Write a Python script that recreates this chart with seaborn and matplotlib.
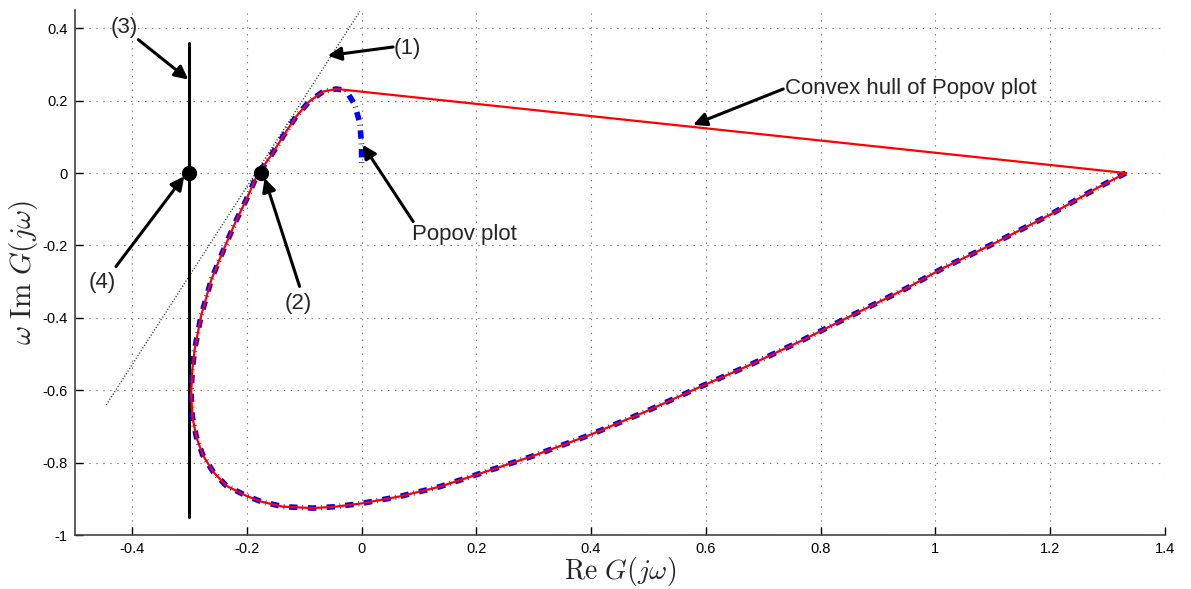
import numpy as np
import pandas as pd
import matplotlib
matplotlib.use('Agg')
import matplotlib.pyplot as plt
import seaborn as sns

# Popov plot points (Re G, w Im G), starting at w=0
curve_re = [1.332, 1.287, 1.200, 1.104, 1.014, 0.950, 0.857, 0.764, 0.671, 0.589,
            0.496, 0.398, 0.299, 0.200, 0.136, 0.066, 0.000, -0.045, -0.085, -0.137,
            -0.175, -0.201, -0.236, -0.259, -0.277, -0.288, -0.295, -0.297, -0.295, -0.291,
            -0.280, -0.262, -0.248, -0.233, -0.218, -0.201, -0.183, -0.163, -0.155, -0.137,
            -0.114, -0.091, -0.067, -0.044]
curve_im = [0.000, -0.037, -0.115, -0.193, -0.262, -0.318, -0.391, -0.465, -0.534, -0.591,
            -0.658, -0.723, -0.781, -0.833, -0.866, -0.893, -0.912, -0.921, -0.925, -0.921,
            -0.907, -0.891, -0.863, -0.824, -0.778, -0.728, -0.672, -0.608, -0.543, -0.488,
            -0.396, -0.295, -0.240, -0.184, -0.129, -0.074, -0.009, 0.037, 0.055, 0.101,
            0.156, 0.198, 0.225, 0.232]
# high-frequency tail of the Popov plot (not part of the hull)
tail_re = [-0.027, -0.012, -0.003, 0.000, 0.000]
tail_im = [0.228, 0.189, 0.138, 0.078, 0.015]

# Popov line (1) and vertical line (3)
popov_line_re = [-0.445, -0.003]
popov_line_im = [-0.640, 0.446]
vert_re = [-0.30, -0.30]
vert_im = [-0.95, 0.36]
# points (4) and (2)
pts_re = [-0.30, -0.175]
pts_im = [0.0, 0.0]

popov = pd.DataFrame({'re': curve_re + tail_re, 'im': curve_im + tail_im})
hull = pd.DataFrame({'re': curve_re + [curve_re[0]], 'im': curve_im + [curve_im[0]]})

sns.set_style('white')
plt.rcParams['font.family'] = ['Liberation Sans', 'DejaVu Sans']
plt.rcParams['mathtext.fontset'] = 'cm'
plt.rcParams['lines.scale_dashes'] = False

fig = plt.figure(figsize=(11.91, 5.89), dpi=100)
ax = fig.add_axes([0.0627, 0.0912, 0.9153, 0.8918])

ax.plot(popov_line_re, popov_line_im, color='#333333', lw=1.0, ls=(0, (0.8, 1.4)))
ax.plot(vert_re, vert_im, color='k', lw=2.2)
sns.lineplot(data=popov, x='re', y='im', sort=False, estimator=None, ax=ax,
             color='#0000ff', lw=4.0, ls=(0, (6, 3.5, 0.5, 3.5)))
sns.lineplot(data=hull, x='re', y='im', sort=False, estimator=None, ax=ax,
             color='#ff0000', lw=1.6)
ax.plot(pts_re, pts_im, 'o', color='k', ms=10, ls='none')

arrow = dict(arrowstyle='-|>', lw=2.2, color='k', mutation_scale=20,
             shrinkA=0, shrinkB=0)
fs = 16
ax.annotate('(3)', xy=(-0.413, 0.401), fontsize=fs, ha='center', va='center')
ax.annotate('', xy=(-0.302, 0.258), xytext=(-0.389, 0.368), arrowprops=arrow)
ax.annotate('(1)', xy=(0.080, 0.343), fontsize=fs, ha='center', va='center')
ax.annotate('', xy=(-0.059, 0.324), xytext=(0.055, 0.348), arrowprops=arrow)
ax.annotate('Convex hull of Popov plot', xy=(0.738, 0.232), fontsize=fs,
            ha='left', va='center')
ax.annotate('', xy=(0.578, 0.133), xytext=(0.735, 0.232), arrowprops=arrow)
ax.annotate('Popov plot', xy=(0.180, -0.170), fontsize=fs, ha='center', va='center')
ax.annotate('', xy=(0.002, 0.078), xytext=(0.090, -0.134), arrowprops=arrow)
ax.annotate('(2)', xy=(-0.111, -0.359), fontsize=fs, ha='center', va='center')
ax.annotate('', xy=(-0.169, -0.014), xytext=(-0.108, -0.313), arrowprops=arrow)
ax.annotate('(4)', xy=(-0.452, -0.302), fontsize=fs, ha='center', va='center')
ax.annotate('', xy=(-0.309, -0.009), xytext=(-0.428, -0.258), arrowprops=arrow)

ax.set_xlim(-0.5, 1.4)
ax.set_ylim(-1.0, 0.45)
ax.set_xticks(np.arange(-0.4, 1.41, 0.2))
ax.set_yticks(np.arange(-1.0, 0.41, 0.2))
ax.set_xticklabels(['-0.4', '-0.2', '0', '0.2', '0.4', '0.6', '0.8', '1', '1.2', '1.4'])
ax.set_yticklabels(['-1', '-0.8', '-0.6', '-0.4', '-0.2', '0', '0.2', '0.4'])
ax.tick_params(direction='in', length=6, width=1, labelsize=10.5, colors='k',
               left=True, bottom=True, pad=5)
ax.grid(True, color='#777777', lw=0.8, ls=(0, (1, 4)))
for s in ['top', 'right']:
    ax.spines[s].set_visible(False)
for s in ['left', 'bottom']:
    ax.spines[s].set_color('#444444')
    ax.spines[s].set_linewidth(1.2)

ax.set_xlabel(r'$\mathrm{Re}\ G(j\omega)$', fontsize=20, labelpad=-1)
ax.set_ylabel(r'$\omega\ \mathrm{Im}\ G(j\omega)$', fontsize=21, labelpad=2)

fig.savefig('out.png', dpi=100)
